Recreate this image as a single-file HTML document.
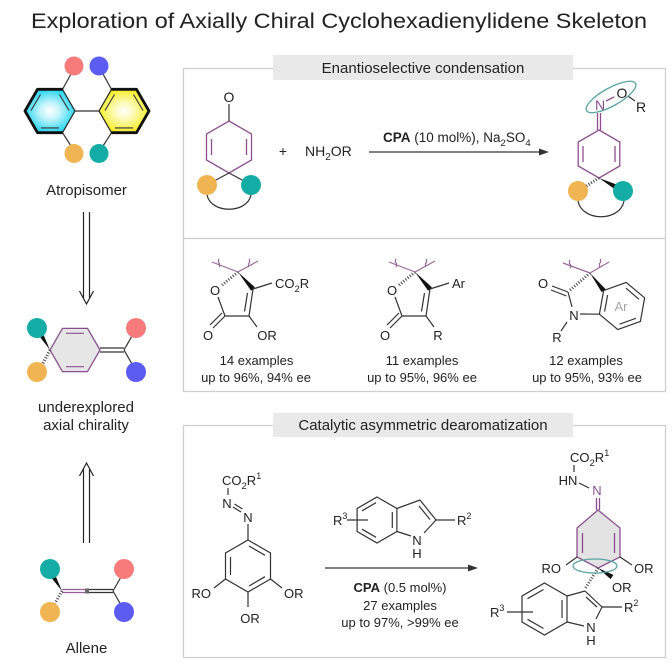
<!DOCTYPE html>
<html><head><meta charset="utf-8"><style>
html,body{margin:0;padding:0;background:#fff;}
svg{display:block;}
text{font-family:"Liberation Sans",Arial,sans-serif;fill:#222;}
</style></head><body>
<svg width="672" height="672" viewBox="0 0 672 672" xmlns="http://www.w3.org/2000/svg">
<defs>
<radialGradient id="gc" cx="50%" cy="50%" r="55%"><stop offset="0" stop-color="#ffffff"/><stop offset="0.35" stop-color="#c4f4fb"/><stop offset="1" stop-color="#0fd0ee"/></radialGradient>
<radialGradient id="gy" cx="50%" cy="50%" r="55%"><stop offset="0" stop-color="#ffffff"/><stop offset="0.35" stop-color="#fcfab8"/><stop offset="1" stop-color="#f3eb12"/></radialGradient>
</defs>
<rect width="672" height="672" fill="#fff"/>
<text x="339" y="28" font-size="21" text-anchor="middle" textLength="616" lengthAdjust="spacingAndGlyphs">Exploration of Axially Chiral Cyclohexadienylidene Skeleton</text>

<!-- ===== Atropisomer ===== -->
<g stroke="#333" stroke-width="1.2" fill="none">
<line x1="62.5" y1="89.3" x2="71" y2="74"/>
<line x1="111.5" y1="89.3" x2="103" y2="74"/>
<line x1="62.5" y1="132.7" x2="71" y2="146"/>
<line x1="111.5" y1="132.7" x2="103" y2="146"/>
<line x1="75" y1="111" x2="99" y2="111"/>
</g>
<polygon points="75,111 62.5,89.3 37.5,89.3 25,111 37.5,132.7 62.5,132.7" fill="url(#gc)" stroke="#222" stroke-width="1.2"/>
<polyline points="62.5,89.3 37.5,89.3 25,111 37.5,132.7 62.5,132.7" fill="none" stroke="#111" stroke-width="2.8" stroke-linejoin="round"/>
<polygon points="149,111 136.5,89.3 111.5,89.3 99,111 111.5,132.7 136.5,132.7" fill="url(#gy)" stroke="#222" stroke-width="1.2"/>
<polyline points="111.5,89.3 136.5,89.3 149,111 136.5,132.7 111.5,132.7" fill="none" stroke="#111" stroke-width="2.8" stroke-linejoin="round"/>
<g stroke="#333" stroke-width="1.1">
<line x1="40.5" y1="94.5" x2="31" y2="110.5"/>
<line x1="41" y1="127.9" x2="59" y2="127.9"/>
<line x1="59.5" y1="94.5" x2="69" y2="110.5"/>
<line x1="114.5" y1="94.5" x2="105" y2="110.5"/>
<line x1="115" y1="127.9" x2="133" y2="127.9"/>
<line x1="133.5" y1="94.5" x2="143" y2="110.5"/>
</g>
<circle cx="74" cy="66" r="9.5" fill="#f77b7b"/>
<circle cx="99" cy="66" r="9.5" fill="#5c5cf2"/>
<circle cx="74" cy="153.5" r="9.5" fill="#f0b552"/>
<circle cx="99" cy="153.5" r="9.5" fill="#13ada5"/>
<text x="86.5" y="195" font-size="15" text-anchor="middle">Atropisomer</text>

<!-- down arrow -->
<g stroke="#222" stroke-width="1.2" fill="none">
<line x1="83.5" y1="212" x2="83.5" y2="298"/>
<line x1="89.5" y1="212" x2="89.5" y2="298"/>
<polyline points="79.5,291 86.5,304 93.5,291"/>
</g>

<!-- ===== middle molecule ===== -->
<polygon points="100,350 87.5,328.35 62.5,328.35 50,350 62.5,371.65 87.5,371.65" fill="#e6e6e6" stroke="#8b4f8f" stroke-width="1.3"/>
<g stroke="#8b4f8f" stroke-width="1.2">
<line x1="66" y1="333.3" x2="84" y2="333.3"/>
<line x1="66" y1="366.7" x2="84" y2="366.7"/>
</g>
<g stroke="#333" stroke-width="1.2">
<line x1="100" y1="348" x2="124" y2="348"/>
<line x1="100" y1="352" x2="124" y2="352"/>
<line x1="124" y1="350" x2="132" y2="336"/>
<line x1="124" y1="350" x2="132" y2="364"/>
</g>
<polygon points="50,350 42.2,331.7 37.9,334.3" fill="#111"/>
<line x1="50" y1="350" x2="41" y2="367" stroke="#444" stroke-width="3.2" stroke-dasharray="1 1.8"/>
<circle cx="37" cy="328" r="10" fill="#13ada5"/>
<circle cx="37" cy="372" r="10" fill="#f0b552"/>
<circle cx="136" cy="328" r="10" fill="#f77b7b"/>
<circle cx="136" cy="372" r="10" fill="#5c5cf2"/>
<text x="86" y="412" font-size="15" text-anchor="middle">underexplored</text>
<text x="86" y="430" font-size="15" text-anchor="middle">axial chirality</text>

<!-- up arrow -->
<g stroke="#222" stroke-width="1.2" fill="none">
<line x1="83.5" y1="469.5" x2="83.5" y2="543"/>
<line x1="89.5" y1="469.5" x2="89.5" y2="543"/>
<polyline points="79.5,476 86.5,463 93.5,476"/>
</g>

<!-- ===== Allene ===== -->
<g stroke-width="1.2">
<line x1="62" y1="589.5" x2="86" y2="589.5" stroke="#9a5a9a"/>
<line x1="62" y1="592.5" x2="86" y2="592.5" stroke="#9a5a9a"/>
<line x1="88" y1="589.5" x2="113" y2="589.5" stroke="#333"/>
<line x1="88" y1="592.5" x2="113" y2="592.5" stroke="#333"/>
<line x1="113" y1="591" x2="121" y2="577" stroke="#333"/>
<line x1="113" y1="591" x2="121" y2="605" stroke="#333"/>
</g>
<rect x="85" y="588.5" width="4" height="5" fill="#666"/>
<polygon points="62,591 55.1,574.7 50.9,577.3" fill="#111"/>
<line x1="62" y1="591" x2="54" y2="605" stroke="#444" stroke-width="3" stroke-dasharray="1 1.8"/>
<circle cx="50" cy="569" r="10" fill="#13ada5"/>
<circle cx="50" cy="612" r="10" fill="#f0b552"/>
<circle cx="124" cy="569" r="10" fill="#f77b7b"/>
<circle cx="124" cy="612" r="10" fill="#5c5cf2"/>
<text x="86.5" y="653" font-size="15" text-anchor="middle">Allene</text>

<!-- ===== Top box ===== -->
<rect x="183.5" y="68.5" width="482" height="323" fill="none" stroke="#cfcfcf" stroke-width="1.3"/>
<rect x="273" y="55" width="300" height="25" fill="#e9e9e9"/>
<text x="423" y="73" font-size="15" text-anchor="middle">Enantioselective condensation</text>
<line x1="184" y1="238.5" x2="665" y2="238.5" stroke="#cfcfcf" stroke-width="1.3"/>

<!-- starting dienone -->
<g stroke="#8b4f8f" stroke-width="1.3" fill="none">
<polygon points="229,121 251.5,134 251.5,160 229,173 206.5,160 206.5,134"/>
<line x1="211.5" y1="139" x2="211.5" y2="155"/>
<line x1="246.5" y1="139" x2="246.5" y2="155"/>
</g>
<g stroke="#333" stroke-width="1.2" fill="none">
<line x1="229" y1="121" x2="229" y2="104"/>
<line x1="229" y1="173" x2="214" y2="181"/>
<line x1="229" y1="173" x2="244" y2="181"/>
<path d="M207 195 C 211 214, 247 214, 251 195"/>
</g>
<circle cx="207" cy="185" r="10" fill="#f0b552"/>
<circle cx="251" cy="185" r="10" fill="#13ada5"/>
<text x="229" y="102" font-size="14" text-anchor="middle">O</text>

<text x="283" y="156" font-size="14" text-anchor="middle">+</text>
<text x="305" y="156" font-size="14">NH<tspan dy="4" font-size="10">2</tspan><tspan dy="-4">OR</tspan></text>

<line x1="369" y1="152" x2="542" y2="152" stroke="#333" stroke-width="1.2"/>
<polygon points="549,152 539,148.5 539,155.5" fill="#333"/>
<text x="383" y="142" font-size="13.5"><tspan font-weight="bold">CPA</tspan> (10 mol%), Na<tspan dy="4" font-size="9.5">2</tspan><tspan dy="-4">SO</tspan><tspan dy="4" font-size="9.5">4</tspan></text>

<!-- product oxime -->
<g stroke="#8b4f8f" stroke-width="1.3" fill="none">
<polygon points="599,130 619.8,142 619.8,166 599,178 578.2,166 578.2,142"/>
<line x1="583" y1="146" x2="583" y2="162"/>
<line x1="615" y1="146" x2="615" y2="162"/>
<line x1="597.5" y1="130" x2="597.5" y2="113"/>
<line x1="600.5" y1="130" x2="600.5" y2="113"/>
<line x1="606" y1="101" x2="614" y2="97"/>
</g>
<line x1="628" y1="96" x2="635" y2="101" stroke="#333" stroke-width="1.2"/>
<text x="600" y="110" font-size="14" text-anchor="middle" style="fill:#8b4f8f">N</text>
<text x="622" y="98" font-size="14" text-anchor="middle">O</text>
<text x="641" y="112" font-size="14" text-anchor="middle">R</text>
<ellipse cx="611" cy="97" rx="28" ry="9" fill="none" stroke="#5aa3a3" stroke-width="1.3" transform="rotate(-29 611 97)"/>
<polygon points="599,178 614.8,189.2 617.2,184.8" fill="#111"/>
<line x1="599" y1="178" x2="583" y2="188" stroke="#444" stroke-width="3" stroke-dasharray="1 1.8"/>
<path d="M578 201 C 582 222, 620 222, 624 201" fill="none" stroke="#333" stroke-width="1.2"/>
<circle cx="578" cy="191" r="10" fill="#f0b552"/>
<circle cx="623" cy="191" r="10" fill="#13ada5"/>

<!-- compound 1 -->
<g id="fur">
<g stroke="#333" stroke-width="1.2" fill="none">
<line x1="218" y1="297" x2="225" y2="316"/>
<line x1="225" y1="316" x2="249" y2="316"/>
<line x1="249" y1="316" x2="253" y2="289"/>
<line x1="244.5" y1="311.5" x2="247.5" y2="293"/>
<line x1="225" y1="316" x2="213" y2="328"/>
<line x1="222" y1="313" x2="210" y2="325"/>
</g>
<polygon points="238,272 251.1,290.7 254.9,287.3" fill="#111"/>
<line x1="238" y1="272" x2="221" y2="286" stroke="#444" stroke-width="3" stroke-dasharray="1 1.8"/>
<g stroke="#9a6a9a" stroke-width="1.2" fill="none">
<line x1="212" y1="262" x2="238" y2="272"/>
<line x1="238" y1="272" x2="258" y2="261"/>
<path d="M218 259 c2,1 -1,3 1,4 c2,1 -1,3 1,4"/>
<path d="M250 259 c-2,1 1,3 -1,4 c-2,1 1,3 -1,4"/>
</g>
<text x="215" y="295" font-size="13" text-anchor="middle">O</text>
<text x="208" y="340" font-size="13" text-anchor="middle">O</text>
</g>
<line x1="249" y1="316" x2="257" y2="327" stroke="#333" stroke-width="1.2"/>
<text x="267" y="340" font-size="13" text-anchor="middle">OR</text>
<line x1="253" y1="289" x2="272" y2="283" stroke="#333" stroke-width="1.2"/>
<text x="275" y="288" font-size="13">CO<tspan dy="4" font-size="9.5">2</tspan><tspan dy="-4">R</tspan></text>
<text x="256.5" y="365" font-size="13" text-anchor="middle">14 examples</text>
<text x="256" y="382" font-size="13" text-anchor="middle">up to 96%, 94% ee</text>

<!-- compound 2 -->
<use href="#fur" transform="translate(177,0)"/>
<line x1="426" y1="316" x2="434" y2="327" stroke="#333" stroke-width="1.2"/>
<text x="438" y="340" font-size="13" text-anchor="middle">R</text>
<line x1="430" y1="289" x2="449" y2="283" stroke="#333" stroke-width="1.2"/>
<text x="452" y="288" font-size="13">Ar</text>
<text x="422" y="365" font-size="13" text-anchor="middle">11 examples</text>
<text x="422" y="382" font-size="13" text-anchor="middle">up to 95%, 96% ee</text>

<!-- compound 3 oxindole -->
<g stroke="#333" stroke-width="1.2" fill="none">
<polygon points="603.6,290.6 626.2,282.4 644.6,297.8 640.4,321.4 617.8,329.6 599.4,314.2"/>
<line x1="607.6" y1="295" x2="604.6" y2="311.5"/>
<line x1="626" y1="288.2" x2="639" y2="299.3"/>
<line x1="636" y1="318.3" x2="619.5" y2="324.2"/>
<line x1="568" y1="292" x2="572" y2="307"/>
<line x1="580" y1="314" x2="599.4" y2="314.2"/>
<line x1="567" y1="322" x2="561" y2="331"/>
<line x1="568" y1="292" x2="552" y2="286"/>
<line x1="566.5" y1="296" x2="551" y2="290"/>
</g>
<polygon points="590,273 601.6,292.1 605.6,289.1" fill="#111"/>
<line x1="590" y1="273" x2="569" y2="291" stroke="#444" stroke-width="3" stroke-dasharray="1 1.8"/>
<g stroke="#9a6a9a" stroke-width="1.2" fill="none">
<line x1="563" y1="263" x2="590" y2="273"/>
<line x1="590" y1="273" x2="609" y2="262"/>
<path d="M569 260 c2,1 -1,3 1,4 c2,1 -1,3 1,4"/>
<path d="M601 259 c-2,1 1,3 -1,4 c-2,1 1,3 -1,4"/>
</g>
<text x="543" y="288" font-size="13" text-anchor="middle">O</text>
<text x="574" y="320" font-size="13" text-anchor="middle">N</text>
<text x="557" y="342" font-size="13" text-anchor="middle">R</text>
<text x="621" y="311" font-size="13" text-anchor="middle" style="fill:#a5a5a5">Ar</text>
<text x="586" y="365" font-size="13" text-anchor="middle">12 examples</text>
<text x="587" y="382" font-size="13" text-anchor="middle">up to 95%, 93% ee</text>

<!-- ===== Bottom box ===== -->
<rect x="183.5" y="425.5" width="482" height="232" fill="none" stroke="#cfcfcf" stroke-width="1.3"/>
<rect x="273" y="413" width="300" height="24" fill="#e9e9e9"/>
<text x="423" y="430" font-size="15" text-anchor="middle">Catalytic asymmetric dearomatization</text>

<!-- left reactant -->
<g stroke="#333" stroke-width="1.2" fill="none">
<polygon points="248,540 270.5,553 270.5,579 248,592 225.5,579 225.5,553"/>
<line x1="230.5" y1="557" x2="230.5" y2="575"/>
<line x1="249" y1="546" x2="265" y2="555.3"/>
<line x1="265" y1="576.7" x2="249" y2="586"/>
<line x1="248" y1="540" x2="248" y2="524"/>
<line x1="228" y1="488" x2="228" y2="495"/>
<line x1="233" y1="507" x2="241" y2="512"/>
<line x1="234.5" y1="504" x2="242.5" y2="509"/>
<line x1="225.5" y1="579" x2="214" y2="588"/>
<line x1="270.5" y1="579" x2="282" y2="588"/>
<line x1="248" y1="592" x2="248" y2="607"/>
</g>
<text x="222" y="485" font-size="13">CO<tspan dy="4" font-size="9.5">2</tspan><tspan dy="-4">R</tspan><tspan dy="-6" font-size="9">1</tspan></text>
<text x="227" y="508" font-size="13" text-anchor="middle">N</text>
<text x="248" y="522" font-size="13" text-anchor="middle">N</text>
<text x="211" y="598" font-size="13" text-anchor="end">RO</text>
<text x="284" y="598" font-size="13">OR</text>
<text x="250" y="623" font-size="13" text-anchor="middle">OR</text>

<!-- indole reagent -->
<g stroke="#333" stroke-width="1.2" fill="none">
<polygon points="377,497 396.9,508.5 396.9,531.5 377,543 357.1,531.5 357.1,508.5"/>
<line x1="376" y1="502.7" x2="362" y2="510.8"/>
<line x1="362" y1="529.2" x2="376" y2="537.3"/>
<line x1="392.3" y1="512" x2="392.3" y2="528"/>
<line x1="396.9" y1="508.5" x2="420" y2="500"/>
<line x1="420" y1="500" x2="436" y2="520"/>
<line x1="419" y1="506" x2="430" y2="519.5"/>
<line x1="436" y1="520" x2="424" y2="533"/>
<line x1="411" y1="536" x2="396.9" y2="531.5"/>
<line x1="436" y1="520" x2="455" y2="520"/>
<line x1="347" y1="520" x2="368" y2="520"/>
</g>
<text x="417" y="545" font-size="13" text-anchor="middle">N</text>
<text x="417" y="558" font-size="13" text-anchor="middle">H</text>
<text x="457" y="525" font-size="13">R<tspan dy="-6" font-size="9">2</tspan></text>
<text x="333" y="525" font-size="13">R<tspan dy="-6" font-size="9">3</tspan></text>
<text x="333" y="525" font-size="13" style="fill:none"> </text>

<line x1="325" y1="568" x2="471" y2="568" stroke="#333" stroke-width="1.2"/>
<polygon points="478,568 468,564.5 468,571.5" fill="#333"/>
<text x="400" y="592" font-size="13" text-anchor="middle"><tspan font-weight="bold">CPA</tspan> (0.5 mol%)</text>
<text x="400" y="610" font-size="13" text-anchor="middle">27 examples</text>
<text x="400" y="627" font-size="13" text-anchor="middle">up to 97%, &gt;99% ee</text>

<!-- product -->
<polygon points="598,510 620,528 620,557 598,568 577,557 577,528" fill="#e3e3e3" stroke="#8b4f8f" stroke-width="1.3"/>
<g stroke="#8b4f8f" stroke-width="1.3" fill="none">
<line x1="582.5" y1="533" x2="582.5" y2="553"/>
<line x1="614.5" y1="533" x2="614.5" y2="553"/>
<line x1="596.5" y1="498" x2="596.5" y2="510"/>
<line x1="599.5" y1="498" x2="599.5" y2="510"/>
</g>
<g stroke="#333" stroke-width="1.2" fill="none">
<line x1="574" y1="465" x2="574" y2="472"/>
<line x1="579" y1="483" x2="589" y2="488"/>
<line x1="577" y1="557" x2="566" y2="565"/>
<line x1="620" y1="557" x2="632" y2="565"/>
<polygon points="544.5,583 567,596 567,622 544.5,635 522,622 522,596"/>
<line x1="543.5" y1="589.5" x2="527.5" y2="598.7"/>
<line x1="527.5" y1="619.3" x2="543.5" y2="628.5"/>
<line x1="562" y1="600" x2="562" y2="618"/>
<line x1="567" y1="596" x2="585" y2="591"/>
<line x1="585" y1="591" x2="602" y2="607"/>
<line x1="586" y1="597" x2="597" y2="607"/>
<line x1="602" y1="607" x2="596" y2="619"/>
<line x1="584" y1="626" x2="567" y2="622"/>
<line x1="602" y1="607" x2="622" y2="607"/>
<line x1="507" y1="612" x2="533" y2="612"/>
</g>
<polygon points="598,568 610.6,579.1 613.4,574.9" fill="#111"/>
<line x1="598" y1="568" x2="585" y2="589" stroke="#444" stroke-width="3" stroke-dasharray="1 1.8"/>
<ellipse cx="595" cy="566" rx="22" ry="7" fill="none" stroke="#5aa3a3" stroke-width="1.3"/>
<text x="570" y="462" font-size="13">CO<tspan dy="4" font-size="9.5">2</tspan><tspan dy="-4">R</tspan><tspan dy="-6" font-size="9">1</tspan></text>
<text x="568" y="485" font-size="13" text-anchor="middle">HN</text>
<text x="597" y="495" font-size="13" text-anchor="middle" style="fill:#8b4f8f">N</text>
<text x="561" y="573" font-size="13" text-anchor="end">RO</text>
<text x="634" y="573" font-size="13">OR</text>
<text x="612" y="592" font-size="13">OR</text>
<text x="591" y="632" font-size="13" text-anchor="middle">N</text>
<text x="591" y="645" font-size="13" text-anchor="middle">H</text>
<text x="624" y="612" font-size="13">R<tspan dy="-6" font-size="9">2</tspan></text>
<text x="490" y="617" font-size="13">R<tspan dy="-6" font-size="9">3</tspan></text>
</svg>
</body></html>
